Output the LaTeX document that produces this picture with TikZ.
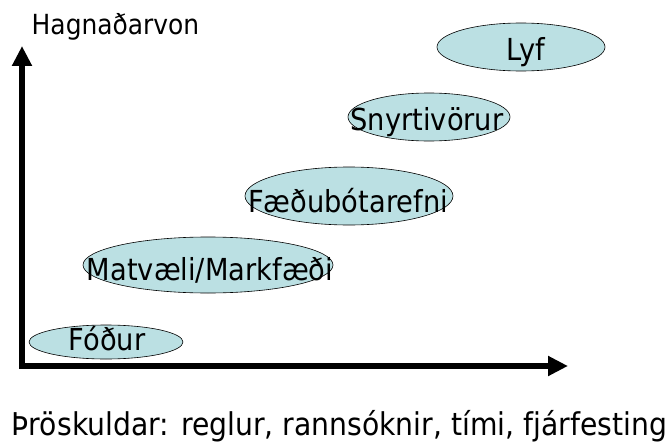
\documentclass[tikz,border=0pt]{standalone}
\usepackage{fontspec}
\setmainfont[FakeStretch=0.9]{DejaVu Sans}
\usetikzlibrary{shapes.geometric,arrows.meta}
\definecolor{bubble}{HTML}{BBE0E3}
\tikzset{
  x=1pt, y=-1pt,
  bub/.style={ellipse, draw=black, line width=0.6pt, fill=bubble, inner sep=0pt},
  lbl/.style={anchor=base, inner sep=0pt, font=\fontsize{30.3}{36}\selectfont},
  axis/.style={line width=6pt, {Triangle[length=20pt,width=19pt]}-{Triangle[length=20pt,width=19pt]}}
}
\begin{document}
\begin{tikzpicture}
\useasboundingbox (0,0) rectangle (672,444);

% axes
\coordinate (ytip) at (22,46);
\coordinate (corner) at (22,366);
\coordinate (xtip) at (568,366);
\draw[axis] (ytip) -- (corner) -- (xtip);

% bubbles
\node[bub, minimum width=168pt, minimum height=48pt] (lyf) at (521,47) {};
\node[bub, minimum width=162pt, minimum height=48pt] (sny) at (429,117) {};
\node[bub, minimum width=208pt, minimum height=58pt] (faed) at (349,196) {};
\node[bub, minimum width=250pt, minimum height=56pt] (matv) at (208,265) {};
\node[bub, minimum width=154pt, minimum height=34pt] (fodur) at (106,342) {};

% labels
\node[lbl] (tlyf) at (526,60) {Lyf};
\node[lbl] (tsny) at (427,130) {Snyrtivörur};
\node[lbl] (tfaed) at (348,212) {Fæðubótarefni};
\node[lbl] (tmatv) at (210,280) {Matvæli/Markfæði};
\node[lbl] (tfodur) at (107,350) {Fóður};

\node[anchor=base, inner sep=0pt, font=\fontsize{27.7}{33}\selectfont] (ylab) at (115.5,35) {Hagnaðarvon};
\node[anchor=base, inner sep=0pt, font=\fontsize{31.4}{37}\selectfont] (xlab) at (339.5,435) {Þröskuldar: reglur, rannsóknir, tími, fjárfesting};
\end{tikzpicture}
\end{document}
